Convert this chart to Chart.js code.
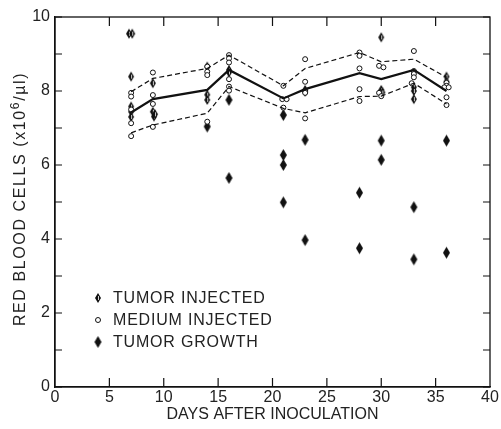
<!DOCTYPE html>
<html>
<head>
<meta charset="utf-8">
<script src="https://cdn.jsdelivr.net/npm/chart.js@4.4.1/dist/chart.umd.min.js"></script>
<style>
  html, body { margin: 0; padding: 0; background: #fff; }
  #wrap { width: 501px; height: 429px; }
</style>
</head>
<body>
<div id="wrap"><canvas id="c" width="501" height="429"></canvas></div>
<script>
// ---- data ----
const days = [7, 9, 14, 16, 21, 23, 28, 30, 33, 36];
const meanRBC  = [7.42, 7.78, 8.03, 8.57, 7.80, 8.05, 8.48, 8.32, 8.57, 8.00];
const upperRBC = [7.98, 8.34, 8.61, 8.97, 8.14, 8.61, 9.04, 8.79, 8.86, 8.37];
const lowerRBC = [6.87, 7.08, 7.40, 8.12, 7.53, 7.41, 7.85, 7.86, 8.21, 7.65];

const mediumInjected = [
  [7,7.95],[7,7.85],[7,7.5],[7,7.13],[7,6.78],
  [9,8.5],[9,7.89],[9,7.65],[9,7.03],
  [14,8.66],[14,8.52],[14,8.43],[14,7.17],
  [16,8.97],[16,8.88],[16,8.77],[16,8.32],[16,8.12],[16,8.01],
  [21,8.14],[20.9,7.78],[21.3,7.78],[21,7.55],
  [23,8.86],[23,8.25],[23,8.0],[23,7.95],[23,7.26],
  [28,9.04],[28,8.95],[28,8.61],[28,8.05],[28,7.73],
  [29.8,8.68],[30.2,8.64],[29.8,7.95],[30,7.86],
  [33,9.08],[33,8.54],[33,8.46],[33,8.37],[32.8,8.21],
  [36,8.22],[36,8.14],[35.8,8.1],[36.2,8.1],[36,7.83],[36,7.62]
];
const tumorInjected = [
  [6.8,9.55],[7.1,9.55],[7,8.39],[7,7.58],[7,7.44],[7,7.3],
  [9,8.21],[9,7.44],[9.1,7.31],[9.2,7.37],
  [14,8.66],[14,7.9],[14,7.76],
  [16,8.57],[16,8.5],
  [23,8.03],[23,7.98],
  [30,9.45],[30,8.03],[30.1,7.96],
  [33,8.1],[33,8.0],[33,7.78],
  [36,8.39],[36,8.25]
];
const tumorGrowth = [
  [14,7.04],[16,7.76],[16,5.65],[21,7.35],[21,6.27],[21,6.0],[21,4.99],
  [23,6.68],[23,3.97],[28,5.25],[28,3.75],[30,6.66],[30,6.14],
  [33,4.86],[33,3.45],[36,6.66],[36,3.63]
];
const xTicks = [0, 5, 10, 15, 20, 25, 30, 35, 40];
const yTicks = [0, 2, 4, 6, 8, 10];
const legendLabels = ['TUMOR INJECTED', 'MEDIUM INJECTED', 'TUMOR GROWTH'];
const yTitleParts = ['RED BLOOD CELLS (x10', '6', '/\u00b5l)'];

const FONT = '"Liberation Sans", Arial, sans-serif';

// ---- marker glyphs ----
function diamondGlyph(w, h, slit) {
  const c = document.createElement('canvas');
  c.width = w + 2; c.height = h + 2;
  const g = c.getContext('2d');
  const cx = c.width / 2, cy = c.height / 2;
  g.beginPath();
  g.moveTo(cx, cy - h / 2); g.lineTo(cx + w / 2, cy);
  g.lineTo(cx, cy + h / 2); g.lineTo(cx - w / 2, cy); g.closePath();
  g.fillStyle = '#111'; g.fill();
  if (slit) {
    g.strokeStyle = 'rgba(255,255,255,0.8)'; g.lineWidth = 1;
    g.beginPath(); g.moveTo(cx + 0.5, cy - h / 2 + 3); g.lineTo(cx + 0.5, cy + h / 2 - 3); g.stroke();
  }
  return c;
}
const injectedGlyph = diamondGlyph(6, 10, true);
const growthGlyph = diamondGlyph(7, 12, false);

const toXY = arr => arr.map(p => ({ x: p[0], y: p[1] }));
const lineXY = vals => days.map((d, i) => ({ x: d, y: vals[i] }));

const frameTicks = {
  id: 'frameTicks',
  afterDatasetsDraw(chart) {
    const { ctx, chartArea: ca, scales } = chart;
    ctx.save();
    ctx.strokeStyle = '#111';
    ctx.lineWidth = 1.3;
    ctx.strokeRect(ca.left, ca.top, ca.right - ca.left, ca.bottom - ca.top);
    ctx.lineWidth = 1.2;
    for (let v = 0; v <= 10; v++) {
      const y = scales.y.getPixelForValue(v);
      ctx.beginPath();
      ctx.moveTo(ca.left, y); ctx.lineTo(ca.left + 7, y);
      ctx.moveTo(ca.right, y); ctx.lineTo(ca.right - 7, y);
      ctx.stroke();
    }
    for (let v = 5; v < 40; v += 5) {
      const x = scales.x.getPixelForValue(v);
      ctx.beginPath();
      ctx.moveTo(x, ca.bottom); ctx.lineTo(x, ca.bottom - 9);
      ctx.moveTo(x, ca.top); ctx.lineTo(x, ca.top + 9);
      ctx.stroke();
    }
    // legend
    const glyphs = [injectedGlyph, null, growthGlyph];
    const rowsY = [298, 320, 342];
    ctx.font = '16px ' + FONT;
    ctx.letterSpacing = '0.8px';
    ctx.fillStyle = '#222';
    ctx.textBaseline = 'middle';
    ctx.textAlign = 'left';
    legendLabels.forEach((t, i) => {
      const y = rowsY[i];
      if (glyphs[i]) {
        const g = glyphs[i];
        ctx.drawImage(g, 98 - g.width / 2, y - g.height / 2);
      } else {
        ctx.beginPath(); ctx.arc(98, y, 2.5, 0, Math.PI * 2);
        ctx.fillStyle = '#fff'; ctx.fill();
        ctx.lineWidth = 1; ctx.strokeStyle = '#111'; ctx.stroke();
        ctx.fillStyle = '#222';
      }
      ctx.fillText(t, 113, y + 1);
    });
    // y-axis title (rotated, with superscript)
    ctx.letterSpacing = '1.6px';
    ctx.translate(21, (ca.top + ca.bottom) / 2 - 3);
    ctx.rotate(-Math.PI / 2);
    ctx.textBaseline = 'middle';
    const mainFont = '16px ' + FONT, supFont = '12px ' + FONT;
    ctx.font = mainFont; const w0 = ctx.measureText(yTitleParts[0]).width;
    ctx.font = supFont;  const w1 = ctx.measureText(yTitleParts[1]).width;
    ctx.font = mainFont; const w2 = ctx.measureText(yTitleParts[2]).width;
    let x = -(w0 + w1 + w2) / 2;
    ctx.font = mainFont; ctx.fillText(yTitleParts[0], x, 0); x += w0;
    ctx.font = supFont;  ctx.fillText(yTitleParts[1], x, -5); x += w1;
    ctx.font = mainFont; ctx.fillText(yTitleParts[2], x, 0);
    ctx.restore();
  }
};

new Chart(document.getElementById('c'), {
  data: {
    datasets: [
      { type: 'line', label: 'upper', data: lineXY(upperRBC), borderColor: '#111', borderWidth: 1.2, borderDash: [5, 3], pointRadius: 0, fill: false, tension: 0 },
      { type: 'line', label: 'lower', data: lineXY(lowerRBC), borderColor: '#111', borderWidth: 1.2, borderDash: [5, 3], pointRadius: 0, fill: false, tension: 0 },
      { type: 'line', label: 'mean', data: lineXY(meanRBC), borderColor: '#111', borderWidth: 2.2, pointRadius: 0, fill: false, tension: 0 },
      { type: 'scatter', label: legendLabels[1], data: toXY(mediumInjected), pointStyle: 'circle', pointRadius: 2.5, borderWidth: 1, borderColor: '#111', backgroundColor: '#fff' },
      { type: 'scatter', label: legendLabels[0], data: toXY(tumorInjected), pointStyle: injectedGlyph },
      { type: 'scatter', label: legendLabels[2], data: toXY(tumorGrowth), pointStyle: growthGlyph }
    ]
  },
  options: {
    responsive: false,
    animation: false,
    events: [],
    layout: { padding: { top: 17, right: 11, left: 0, bottom: 0 } },
    plugins: { legend: { display: false }, tooltip: { enabled: false } },
    scales: {
      x: {
        type: 'linear', min: 0, max: 40,
        afterFit: s => { s.height = 42; },
        afterBuildTicks: s => { s.ticks = xTicks.map(v => ({ value: v })); },
        grid: { display: false, drawTicks: false },
        border: { color: '#111', width: 1.3 },
        ticks: { color: '#222', font: { size: 16, family: FONT }, padding: 1, maxRotation: 0, autoSkip: false },
        title: { display: true, text: 'DAYS AFTER INOCULATION', color: '#222', font: { size: 16, family: FONT }, padding: { top: 0, bottom: 5 } }
      },
      y: {
        type: 'linear', min: 0, max: 10,
        afterFit: s => { s.width = 55; },
        afterBuildTicks: s => { s.ticks = yTicks.map(v => ({ value: v })); },
        grid: { display: false, drawTicks: false },
        border: { color: '#111', width: 1.3 },
        ticks: { color: '#222', font: { size: 16, family: FONT }, padding: 5, autoSkip: false },
        title: { display: false }
      }
    }
  },
  plugins: [frameTicks]
});
</script>
</body>
</html>
